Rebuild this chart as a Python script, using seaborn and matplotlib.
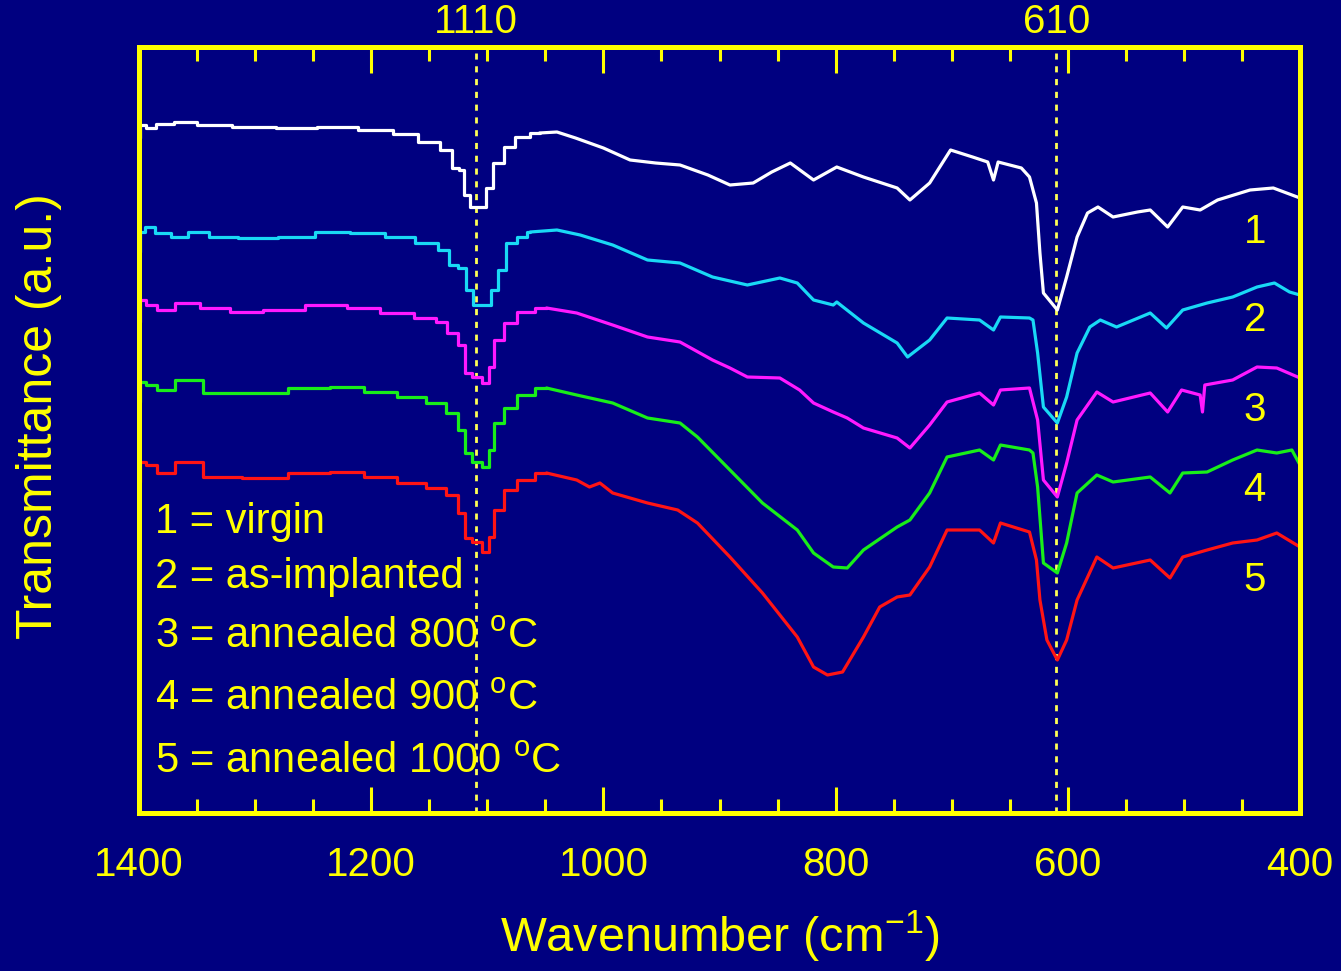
import matplotlib
matplotlib.use("Agg")
import matplotlib.pyplot as plt
from matplotlib import font_manager
from matplotlib.ticker import MultipleLocator
import numpy as np
import pandas as pd
import seaborn as sns

# ---- FTIR transmittance spectra (stacked, arbitrary units) ----
wn_virgin = [1400, 1398, 1390, 1380, 1360, 1340, 1300, 1264, 1230, 1192, 1170, 1149, 1132,
             1128, 1121, 1119, 1111, 1103, 1099, 1091, 1080, 1072, 1055, 1040, 1024, 1000,
             977, 955, 934, 910, 891, 871, 855, 839, 819, 799, 776, 747, 736, 719, 701, 682,
             669, 664, 660, 640, 633, 627, 624, 621, 609, 601, 592, 583, 574, 561, 540, 529,
             514, 501, 486, 471, 443, 423, 400]
t_virgin = [6.75, 6.88, 6.85, 6.89, 6.91, 6.88, 6.86, 6.85, 6.86, 6.83, 6.79, 6.71, 6.63,
            6.45, 6.43, 6.18, 6.06, 6.06, 6.25, 6.50, 6.66, 6.76, 6.80, 6.81, 6.75, 6.65,
            6.53, 6.50, 6.48, 6.38, 6.28, 6.30, 6.41, 6.50, 6.33, 6.46, 6.36, 6.25, 6.13,
            6.30, 6.63, 6.56, 6.51, 6.33, 6.51, 6.45, 6.36, 6.10, 5.60, 5.20, 5.03, 5.36,
            5.76, 6.00, 6.06, 5.96, 6.01, 6.03, 5.86, 6.06, 6.03, 6.13, 6.23, 6.25, 6.15]

wn_implanted = [1400, 1398, 1392, 1380, 1365, 1350, 1330, 1300, 1261, 1235, 1201, 1175, 1149,
                1136, 1130, 1121, 1115, 1109, 1100, 1093, 1088, 1080, 1069, 1063, 1040, 1020,
                992, 962, 934, 906, 876, 848, 833, 819, 802, 799, 776, 747, 738, 719, 704,
                676, 664, 658, 633, 630, 626, 621, 609, 601, 592, 581, 572, 558, 529, 515,
                501, 480, 458, 437, 422, 409, 400]
t_implanted = [5.61, 5.81, 5.86, 5.80, 5.76, 5.81, 5.76, 5.75, 5.76, 5.81, 5.80, 5.76, 5.70,
               5.63, 5.48, 5.45, 5.23, 5.08, 5.08, 5.23, 5.43, 5.70, 5.76, 5.81, 5.83, 5.78,
               5.68, 5.53, 5.50, 5.36, 5.28, 5.35, 5.30, 5.13, 5.08, 5.11, 4.90, 4.70, 4.56,
               4.73, 4.95, 4.93, 4.83, 4.96, 4.95, 4.93, 4.60, 4.06, 3.90, 4.16, 4.60, 4.86,
               4.93, 4.86, 5.00, 4.85, 5.03, 5.10, 5.16, 5.26, 5.30, 5.21, 5.18]

wn_800 = [1400, 1398, 1390, 1379, 1359, 1336, 1307, 1279, 1235, 1207, 1178, 1149, 1139,
          1130, 1121, 1118, 1109, 1100, 1097, 1091, 1080, 1069, 1049, 1023, 992, 962, 934,
          906, 891, 876, 848, 831, 819, 802, 790, 776, 747, 736, 719, 704, 676, 664, 658,
          633, 626, 621, 609, 601, 592, 575, 561, 529, 514, 502, 486, 484, 482, 458, 437,
          420, 400]
t_800 = [4.91, 5.13, 5.08, 5.03, 5.10, 5.05, 5.01, 5.03, 5.08, 5.05, 5.00, 4.95, 4.91,
         4.80, 4.68, 4.40, 4.36, 4.30, 4.46, 4.73, 4.90, 5.01, 5.05, 5.00, 4.88, 4.76, 4.71,
         4.53, 4.45, 4.36, 4.35, 4.23, 4.10, 4.01, 3.95, 3.85, 3.75, 3.65, 3.88, 4.11, 4.20,
         4.08, 4.23, 4.25, 3.93, 3.33, 3.16, 3.50, 3.93, 4.21, 4.11, 4.20, 4.01, 4.23, 4.18,
         4.01, 4.28, 4.33, 4.46, 4.45, 4.35]

wn_900 = [1400, 1398, 1390, 1379, 1359, 1330, 1293, 1250, 1221, 1192, 1164, 1141, 1130,
          1121, 1118, 1109, 1100, 1097, 1091, 1080, 1069, 1049, 1023, 992, 962, 934, 919,
          891, 863, 833, 819, 802, 790, 776, 747, 736, 719, 704, 676, 664, 658, 633, 630,
          626, 621, 609, 601, 592, 575, 561, 529, 512, 501, 480, 458, 437, 420, 407, 400]
t_900 = [4.11, 4.31, 4.28, 4.23, 4.33, 4.20, 4.20, 4.25, 4.26, 4.21, 4.16, 4.10, 4.00,
         3.83, 3.60, 3.51, 3.46, 3.63, 3.90, 4.05, 4.18, 4.25, 4.18, 4.10, 3.95, 3.90, 3.76,
         3.43, 3.10, 2.83, 2.60, 2.46, 2.45, 2.63, 2.86, 2.93, 3.20, 3.56, 3.63, 3.53, 3.68,
         3.63, 3.60, 3.26, 2.50, 2.40, 2.70, 3.20, 3.38, 3.31, 3.36, 3.20, 3.40, 3.41, 3.53,
         3.63, 3.60, 3.63, 3.48]

wn_1000 = [1400, 1398, 1390, 1379, 1359, 1330, 1293, 1250, 1221, 1192, 1164, 1141, 1130,
           1121, 1118, 1109, 1100, 1097, 1091, 1080, 1069, 1049, 1023, 1012, 1003, 992, 962,
           936, 919, 891, 863, 833, 819, 807, 794, 776, 762, 747, 736, 719, 704, 676, 664,
           658, 633, 627, 624, 618, 609, 601, 592, 575, 561, 529, 512, 501, 480, 458, 437,
           420, 400]
t_1000 = [3.31, 3.51, 3.48, 3.40, 3.51, 3.36, 3.35, 3.40, 3.41, 3.36, 3.30, 3.25, 3.18,
          3.00, 2.75, 2.71, 2.61, 2.76, 3.03, 3.23, 3.33, 3.40, 3.33, 3.26, 3.30, 3.20, 3.10,
          3.03, 2.90, 2.56, 2.20, 1.76, 1.46, 1.38, 1.41, 1.76, 2.06, 2.16, 2.18, 2.46, 2.83,
          2.83, 2.70, 2.90, 2.81, 2.53, 2.13, 1.73, 1.53, 1.73, 2.13, 2.56, 2.45, 2.53, 2.35,
          2.56, 2.63, 2.70, 2.73, 2.80, 2.66]

curve_ids = ["1", "2", "3", "4", "5"]
sample_names = ["virgin", "as-implanted", "annealed 800 $^{\\mathrm{o}}$C",
                "annealed 900 $^{\\mathrm{o}}$C", "annealed 1000 $^{\\mathrm{o}}$C"]
curve_colors = ["#FFFFFF", "#19D9F5", "#FF19FF", "#19EE19", "#FF1414"]
id_label_y = [5.81, 4.93, 4.03, 3.23, 2.33]

peak_positions = [1110, 610]

# ---- style ----
NAVY = "#000080"
YELLOW = "#FFFF00"

sns.set_theme(style="dark", rc={
    "axes.facecolor": NAVY,
    "figure.facecolor": NAVY,
    "savefig.facecolor": NAVY,
    "axes.edgecolor": YELLOW,
    "axes.grid": False,
})

installed = {f.name for f in font_manager.fontManager.ttflist}
main_font = "Liberation Sans" if "Liberation Sans" in installed else "DejaVu Sans"
plt.rcParams["font.family"] = [main_font, "DejaVu Sans"]
plt.rcParams["mathtext.fontset"] = "custom"
plt.rcParams["mathtext.rm"] = main_font
plt.rcParams["mathtext.it"] = main_font
plt.rcParams["mathtext.bf"] = main_font

fig = plt.figure(figsize=(13.41, 9.71), dpi=100)
ax = fig.add_axes([139 / 1341, 1 - 813 / 971, 1161 / 1341, 766 / 971])
ax.set_facecolor(NAVY)

STEP_EDGE = 1045  # the coarse-resolution part of each scan above this wavenumber

series = [(wn_virgin, t_virgin), (wn_implanted, t_implanted), (wn_800, t_800),
          (wn_900, t_900), (wn_1000, t_1000)]

for (wn, tr), color, cid in zip(series, curve_colors, curve_ids):
    wn = np.asarray(wn, dtype=float)
    tr = np.asarray(tr, dtype=float)
    last = int(np.where(wn >= STEP_EDGE)[0][-1])
    coarse = pd.DataFrame({"wavenumber": wn[:last + 1], "T": tr[:last + 1]})
    fine = pd.DataFrame({"wavenumber": wn[last:], "T": tr[last:]})
    sns.lineplot(data=coarse, x="wavenumber", y="T", ax=ax, color=color,
                 linewidth=2.3, estimator=None, drawstyle="steps-mid", legend=False)
    sns.lineplot(data=fine, x="wavenumber", y="T", ax=ax, color=color,
                 linewidth=2.3, estimator=None, legend=False)

# peak markers
for p in peak_positions:
    ax.axvline(p, color="#FFFF55", linewidth=2.0, linestyle=(0, (2.2, 2.4)), zorder=1)
    ax.annotate(str(p), xy=(p, 1.0), xycoords=("data", "axes fraction"),
                xytext=(0, 4), textcoords="offset points", ha="center", va="bottom",
                color=YELLOW, fontsize=29)

# curve numbers at the right
for cid, yv in zip(curve_ids, id_label_y):
    ax.text(439, yv, cid, color=YELLOW, fontsize=29, ha="center", va="center")

# sample key
key_y = [0.380, 0.308, 0.230, 0.149, 0.067]
for cid, name, yk in zip(curve_ids, sample_names, key_y):
    ax.text(0.014, yk, f"{cid} = {name}", transform=ax.transAxes, color=YELLOW,
            fontsize=30, ha="left", va="center")

ax.set_xlim(1400, 400)
ax.set_ylim(0, 7.66)

ax.xaxis.set_major_locator(MultipleLocator(200))
ax.xaxis.set_minor_locator(MultipleLocator(50))
ax.tick_params(axis="x", which="both", direction="in", top=True, bottom=True,
               colors=YELLOW, labelsize=29, pad=24)
ax.tick_params(axis="x", which="major", length=19, width=2.2)
ax.tick_params(axis="x", which="minor", length=10, width=2.2)
ax.tick_params(axis="y", left=False, right=False, labelleft=False)
ax.yaxis.set_major_locator(plt.NullLocator())

for s in ax.spines.values():
    s.set_visible(True)
    s.set_color(YELLOW)
    s.set_linewidth(3.6)

ax.set_xlabel("Wavenumber (cm$^{\\mathrm{-1}}$)", color=YELLOW, fontsize=35)
ax.set_ylabel("Transmittance (a.u.)", color=YELLOW, fontsize=36)
ax.xaxis.set_label_coords(0.5, -0.125)
ax.yaxis.set_label_coords(-0.066, 0.518)

fig.savefig("out.png", dpi=100, facecolor=NAVY)
